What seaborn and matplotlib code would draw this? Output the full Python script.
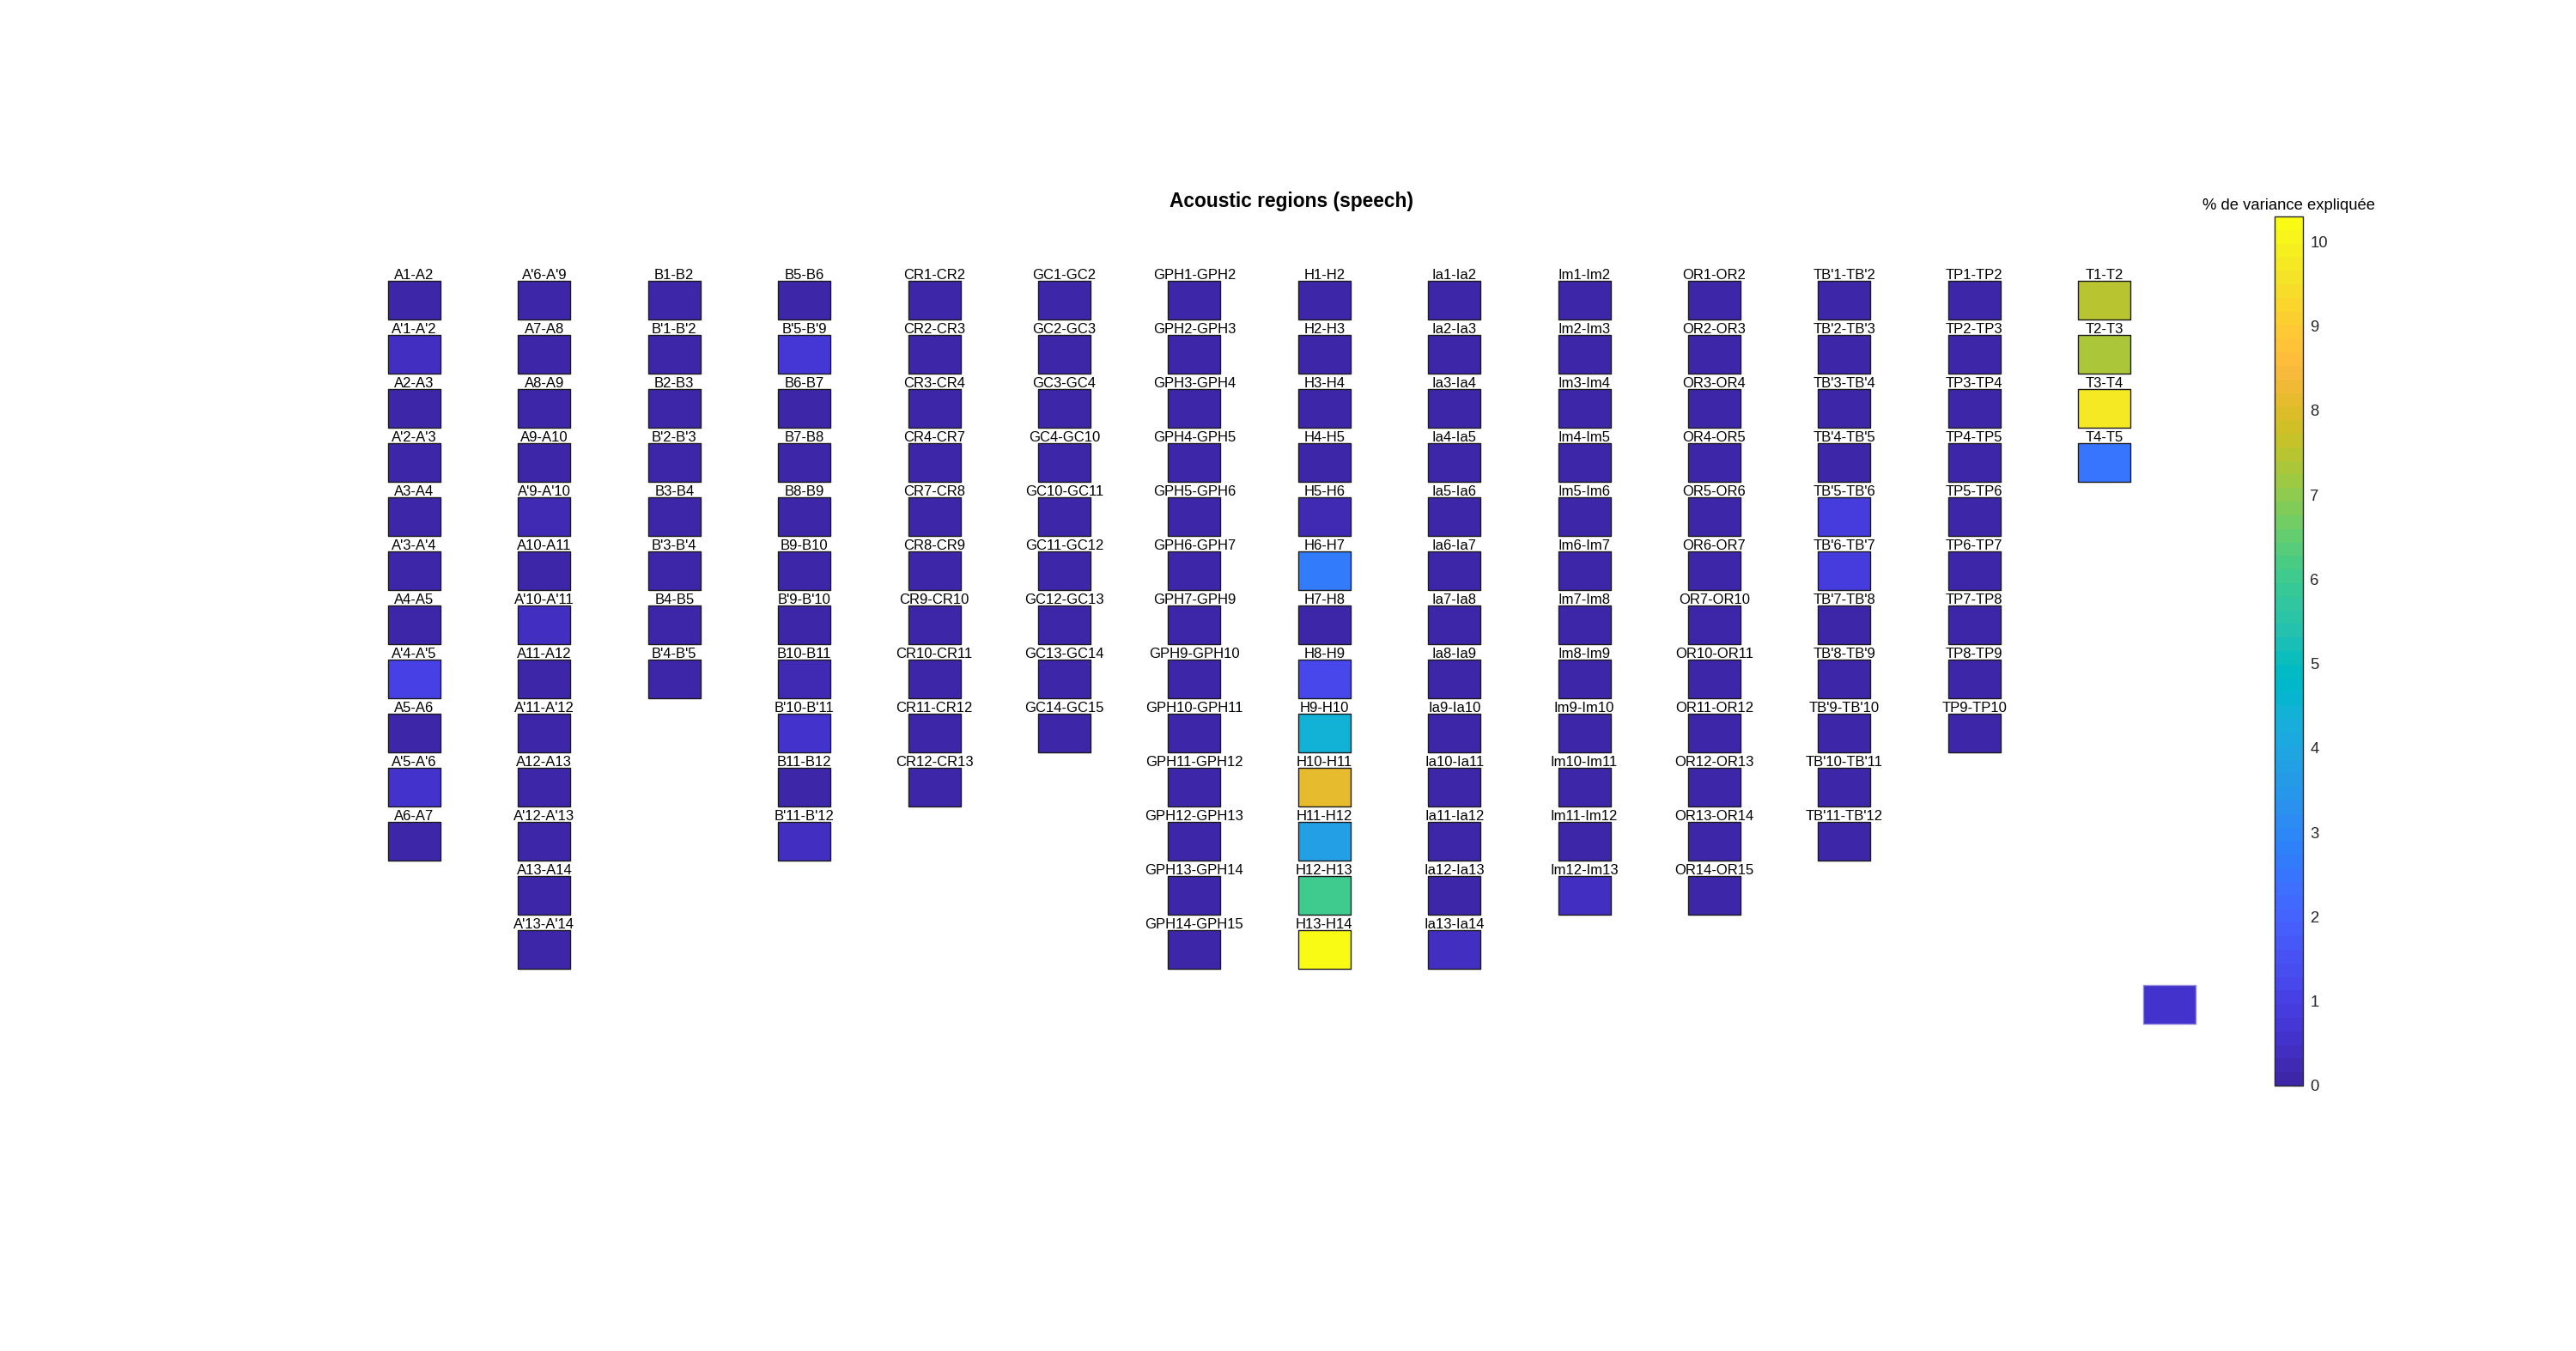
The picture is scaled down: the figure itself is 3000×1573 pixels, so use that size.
import numpy as np
import pandas as pd
import matplotlib
matplotlib.use("Agg")
import matplotlib.pyplot as plt
import seaborn as sns
from matplotlib.colors import ListedColormap, Normalize
from matplotlib.cm import ScalarMappable

# ---------------- data (one list per electrode shaft) ----------------
labels_A = ["A1-A2", "A'1-A'2", "A2-A3", "A'2-A'3", "A3-A4", "A'3-A'4", "A4-A5",
            "A'4-A'5", "A5-A6", "A'5-A'6", "A6-A7"]
values_A = [0.10, 0.45, 0.10, 0.10, 0.10, 0.10, 0.10, 1.00, 0.10, 0.55, 0.10]

labels_A2 = ["A'6-A'9", "A7-A8", "A8-A9", "A9-A10", "A'9-A'10", "A10-A11", "A'10-A'11",
             "A11-A12", "A'11-A'12", "A12-A13", "A'12-A'13", "A13-A14", "A'13-A'14"]
values_A2 = [0.10, 0.10, 0.10, 0.10, 0.20, 0.10, 0.45, 0.10, 0.10, 0.10, 0.10, 0.10, 0.10]

labels_B = ["B1-B2", "B'1-B'2", "B2-B3", "B'2-B'3", "B3-B4", "B'3-B'4", "B4-B5", "B'4-B'5"]
values_B = [0.10, 0.10, 0.10, 0.10, 0.10, 0.10, 0.10, 0.10]

labels_B2 = ["B5-B6", "B'5-B'9", "B6-B7", "B7-B8", "B8-B9", "B9-B10", "B'9-B'10",
             "B10-B11", "B'10-B'11", "B11-B12", "B'11-B'12"]
values_B2 = [0.10, 0.65, 0.10, 0.10, 0.10, 0.10, 0.10, 0.20, 0.50, 0.10, 0.45]

labels_CR = ["CR1-CR2", "CR2-CR3", "CR3-CR4", "CR4-CR7", "CR7-CR8", "CR8-CR9",
             "CR9-CR10", "CR10-CR11", "CR11-CR12", "CR12-CR13"]
values_CR = [0.10, 0.10, 0.10, 0.10, 0.10, 0.10, 0.10, 0.10, 0.10, 0.10]

labels_GC = ["GC1-GC2", "GC2-GC3", "GC3-GC4", "GC4-GC10", "GC10-GC11", "GC11-GC12",
             "GC12-GC13", "GC13-GC14", "GC14-GC15"]
values_GC = [0.10, 0.10, 0.10, 0.10, 0.10, 0.10, 0.10, 0.10, 0.10]

labels_GPH = ["GPH1-GPH2", "GPH2-GPH3", "GPH3-GPH4", "GPH4-GPH5", "GPH5-GPH6",
              "GPH6-GPH7", "GPH7-GPH9", "GPH9-GPH10", "GPH10-GPH11", "GPH11-GPH12",
              "GPH12-GPH13", "GPH13-GPH14", "GPH14-GPH15"]
values_GPH = [0.10, 0.10, 0.10, 0.10, 0.10, 0.10, 0.10, 0.10, 0.10, 0.10, 0.10, 0.10, 0.10]

labels_H = ["H1-H2", "H2-H3", "H3-H4", "H4-H5", "H5-H6", "H6-H7", "H7-H8", "H8-H9",
            "H9-H10", "H10-H11", "H11-H12", "H12-H13", "H13-H14"]
values_H = [0.10, 0.10, 0.10, 0.10, 0.20, 2.70, 0.10, 1.20, 4.40, 8.20, 3.80, 6.10, 10.29]

labels_Ia = ["Ia1-Ia2", "Ia2-Ia3", "Ia3-Ia4", "Ia4-Ia5", "Ia5-Ia6", "Ia6-Ia7", "Ia7-Ia8",
             "Ia8-Ia9", "Ia9-Ia10", "Ia10-Ia11", "Ia11-Ia12", "Ia12-Ia13", "Ia13-Ia14"]
values_Ia = [0.10, 0.10, 0.10, 0.10, 0.10, 0.10, 0.10, 0.10, 0.10, 0.10, 0.10, 0.10, 0.45]

labels_Im = ["Im1-Im2", "Im2-Im3", "Im3-Im4", "Im4-Im5", "Im5-Im6", "Im6-Im7", "Im7-Im8",
             "Im8-Im9", "Im9-Im10", "Im10-Im11", "Im11-Im12", "Im12-Im13"]
values_Im = [0.10, 0.10, 0.10, 0.10, 0.10, 0.10, 0.10, 0.10, 0.10, 0.10, 0.10, 0.35]

labels_OR = ["OR1-OR2", "OR2-OR3", "OR3-OR4", "OR4-OR5", "OR5-OR6", "OR6-OR7", "OR7-OR10",
             "OR10-OR11", "OR11-OR12", "OR12-OR13", "OR13-OR14", "OR14-OR15"]
values_OR = [0.10, 0.10, 0.10, 0.10, 0.10, 0.10, 0.10, 0.10, 0.10, 0.10, 0.10, 0.10]

labels_TB = ["TB'1-TB'2", "TB'2-TB'3", "TB'3-TB'4", "TB'4-TB'5", "TB'5-TB'6", "TB'6-TB'7",
             "TB'7-TB'8", "TB'8-TB'9", "TB'9-TB'10", "TB'10-TB'11", "TB'11-TB'12"]
values_TB = [0.10, 0.10, 0.10, 0.10, 0.95, 0.95, 0.10, 0.10, 0.10, 0.10, 0.10]

labels_TP = ["TP1-TP2", "TP2-TP3", "TP3-TP4", "TP4-TP5", "TP5-TP6", "TP6-TP7", "TP7-TP8",
             "TP8-TP9", "TP9-TP10"]
values_TP = [0.10, 0.10, 0.10, 0.10, 0.10, 0.10, 0.10, 0.10, 0.10]

labels_T = ["T1-T2", "T2-T3", "T3-T4", "T4-T5"]
values_T = [7.50, 7.30, 9.80, 2.50]

extra_value = 0.55          # unlabeled patch at lower right

title_text = "Acoustic regions (speech)"
cbar_label = "% de variance expliquée"
cbar_ticks = [0, 1, 2, 3, 4, 5, 6, 7, 8, 9, 10]
cmin, cmax = 0.0, 10.3

groups = [(labels_A, values_A), (labels_A2, values_A2), (labels_B, values_B),
          (labels_B2, values_B2), (labels_CR, values_CR), (labels_GC, values_GC),
          (labels_GPH, values_GPH), (labels_H, values_H), (labels_Ia, values_Ia),
          (labels_Im, values_Im), (labels_OR, values_OR), (labels_TB, values_TB),
          (labels_TP, values_TP), (labels_T, values_T)]

# ---------------- parula colormap (MATLAB, 64 entries) ----------------
PARULA = [
    [0.2422, 0.1504, 0.6603], [0.2504, 0.1650, 0.7076], [0.2578, 0.1818, 0.7511],
    [0.2647, 0.1978, 0.7952], [0.2706, 0.2147, 0.8364], [0.2751, 0.2342, 0.8710],
    [0.2783, 0.2559, 0.8991], [0.2803, 0.2782, 0.9221], [0.2813, 0.3006, 0.9414],
    [0.2810, 0.3228, 0.9579], [0.2795, 0.3447, 0.9717], [0.2760, 0.3667, 0.9829],
    [0.2699, 0.3892, 0.9906], [0.2602, 0.4123, 0.9952], [0.2440, 0.4358, 0.9988],
    [0.2206, 0.4603, 0.9973], [0.1963, 0.4847, 0.9892], [0.1834, 0.5074, 0.9798],
    [0.1786, 0.5289, 0.9682], [0.1764, 0.5499, 0.9520], [0.1687, 0.5703, 0.9359],
    [0.1540, 0.5902, 0.9218], [0.1460, 0.6091, 0.9079], [0.1380, 0.6276, 0.8973],
    [0.1248, 0.6459, 0.8883], [0.1113, 0.6635, 0.8763], [0.0952, 0.6798, 0.8598],
    [0.0689, 0.6948, 0.8394], [0.0297, 0.7082, 0.8163], [0.0036, 0.7203, 0.7917],
    [0.0067, 0.7312, 0.7660], [0.0433, 0.7411, 0.7394], [0.0964, 0.7500, 0.7120],
    [0.1408, 0.7584, 0.6842], [0.1717, 0.7670, 0.6554], [0.1938, 0.7758, 0.6251],
    [0.2161, 0.7843, 0.5923], [0.2470, 0.7918, 0.5567], [0.2906, 0.7973, 0.5188],
    [0.3406, 0.8008, 0.4789], [0.3909, 0.8029, 0.4354], [0.4456, 0.8024, 0.3909],
    [0.5044, 0.7993, 0.3480], [0.5616, 0.7942, 0.3045], [0.6174, 0.7876, 0.2612],
    [0.6720, 0.7793, 0.2227], [0.7242, 0.7698, 0.1910], [0.7738, 0.7598, 0.1646],
    [0.8203, 0.7498, 0.1535], [0.8634, 0.7406, 0.1596], [0.9035, 0.7330, 0.1774],
    [0.9393, 0.7288, 0.2100], [0.9728, 0.7298, 0.2394], [0.9956, 0.7434, 0.2371],
    [0.9970, 0.7659, 0.2199], [0.9952, 0.7893, 0.2028], [0.9892, 0.8136, 0.1885],
    [0.9786, 0.8386, 0.1766], [0.9676, 0.8639, 0.1643], [0.9610, 0.8890, 0.1537],
    [0.9597, 0.9135, 0.1423], [0.9628, 0.9373, 0.1265], [0.9691, 0.9606, 0.1064],
    [0.9769, 0.9839, 0.0805]]
parula = ListedColormap(PARULA, name="parula")
norm = Normalize(vmin=cmin, vmax=cmax)

# ---------------- long table ----------------
rows = []
for gi, (labs, vals) in enumerate(groups):
    for ri, (lab, val) in enumerate(zip(labs, vals)):
        rows.append({"col": gi, "row": ri, "label": lab, "value": val})
df = pd.DataFrame(rows)
extra_df = pd.DataFrame({"col": [len(groups) - 0.5], "row": [13], "value": [extra_value]})

# ---------------- figure ----------------
sns.set_theme(style="white")
plt.rcParams["font.family"] = ["Liberation Sans", "DejaVu Sans"]

W, H, DPI = 3000, 1573, 100
fig = plt.figure(figsize=(W / DPI, H / DPI), dpi=DPI)
fig.patch.set_facecolor("white")

# layout (pixels): column pitch, row pitch, first cell centre, cell size
COL_PITCH, ROW_PITCH = 151.4, 63.0
X_FIRST, Y_FIRST = 482.5, 349.5
CELL_W, CELL_H = 61.0, 45.0

ax = fig.add_axes([0, 0, 1, 1])
x0 = -X_FIRST / COL_PITCH
y0 = -Y_FIRST / ROW_PITCH
ax.set_xlim(x0, x0 + W / COL_PITCH)
ax.set_ylim(y0 + H / ROW_PITCH, y0)
ax.axis("off")

rect = [(-CELL_W, -CELL_H), (CELL_W, -CELL_H), (CELL_W, CELL_H), (-CELL_W, CELL_H), (-CELL_W, -CELL_H)]
size_pts = (CELL_W * 72.0 / DPI) ** 2

sns.scatterplot(data=df, x="col", y="row", hue="value", palette=parula, hue_norm=norm,
                marker=rect, s=size_pts, edgecolor="#1a1a1a", linewidth=1.0,
                legend=False, ax=ax, zorder=3)
sns.scatterplot(data=extra_df, x="col", y="row", hue="value", palette=parula, hue_norm=norm,
                marker=rect, s=size_pts, edgecolor="#8f86d8", linewidth=1.0,
                legend=False, ax=ax, zorder=3)

half_h = CELL_H / 2.0 / ROW_PITCH
for _, r in df.iterrows():
    ax.text(r["col"], r["row"] - half_h - 2.0 / ROW_PITCH, r["label"], ha="center",
            va="baseline", fontsize=12, color="black", zorder=4)

ax.set_xlabel("")
ax.set_ylabel("")

fig.text(1504 / W, 1 - 235 / H, title_text, ha="center", va="center",
         fontsize=16.4, fontweight="bold", color="black")

# ---------------- colorbar ----------------
cax = fig.add_axes([2649 / W, (H - 1264) / H, 33 / W, (1264 - 252) / H])
sm = ScalarMappable(norm=norm, cmap=parula)
cb = fig.colorbar(sm, cax=cax, ticks=cbar_ticks)
cb.outline.set_linewidth(1.0)
cb.outline.set_edgecolor("#262626")
cax.tick_params(axis="y", direction="in", length=7, width=0.8, color="#262626",
                labelsize=13.3, labelcolor="#262626", pad=6, right=True, left=False)
cax.set_title(cbar_label, fontsize=13.3, color="black", pad=6)

fig.savefig("out.png", dpi=DPI, facecolor="white")
